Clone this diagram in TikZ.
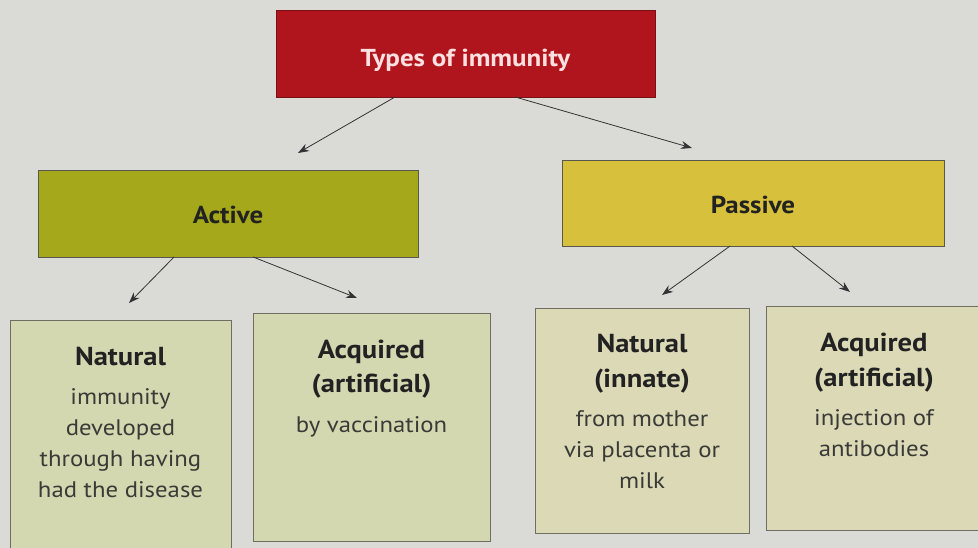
\documentclass[tikz,border=0pt]{standalone}
\usepackage{fontspec}
\setmainfont{PT Sans}[FakeStretch=1.1]
\usetikzlibrary{arrows.meta,calc}
\definecolor{bgc}{HTML}{DADAD6}
\definecolor{redc}{HTML}{B0141C}
\definecolor{reddark}{HTML}{7A1015}
\definecolor{activec}{HTML}{A5A81A}
\definecolor{passivec}{HTML}{D7C03C}
\definecolor{leftbox}{HTML}{D4D8B1}
\definecolor{rightbox}{HTML}{DBD9B6}
\definecolor{boxline}{HTML}{6E6E62}
\definecolor{ink}{HTML}{222222}
\definecolor{bodyink}{HTML}{3A3A36}
\definecolor{arrowc}{HTML}{333333}
\newcommand{\hd}[1]{{\fontsize{26}{33}\selectfont\bfseries\color{ink}#1}}
\begin{document}
\begin{tikzpicture}[x=1pt,y=-1pt,
  box/.style={draw=boxline,line width=0.9pt,anchor=north west,inner sep=0pt,outer sep=0pt},
  titletext/.style={font=\fontsize{24.5}{28}\selectfont\bfseries},
  boxtext/.style={anchor=north,align=center,inner sep=0pt,text=bodyink,font=\fontsize{22.5}{31}\selectfont},
  link/.style={draw=arrowc,line width=0.8pt,-{Stealth[length=11pt,width=8pt]}}
]
\fill[bgc] (0,0) rectangle (978,548);
\clip (0,0) rectangle (978,548);

% top level
\node[box,fill=redc,draw=reddark,minimum width=379pt,minimum height=87pt,titletext,text=white!88!red,text height=32pt,text depth=5.6pt] (top) at (276,10) {Types of immunity};
% second level
\node[box,fill=activec,draw=boxline!80!black,minimum width=380pt,minimum height=87pt,titletext,text=ink,text height=21pt,text depth=0pt] (active) at (38,170) {Active};
\node[box,fill=passivec,draw=boxline!80!black,minimum width=382pt,minimum height=86pt,titletext,text=ink,text height=21pt,text depth=0pt] (passive) at (562,160) {Passive};

% third level boxes
\node[box,fill=leftbox,minimum width=221pt,minimum height=240pt] (nat1) at (10,320) {};
\node[box,fill=leftbox,minimum width=237pt,minimum height=228pt] (acq1) at (253,313) {};
\node[box,fill=rightbox,minimum width=214pt,minimum height=225pt] (nat2) at (535,308) {};
\node[box,fill=rightbox,minimum width=216pt,minimum height=224pt] (acq2) at (766,306) {};

\node[boxtext] (nat1t) at ($(nat1.north)+(0,27)$) {\hd{Natural}\\[8pt]immunity\\developed\\through having\\had the disease};
\node[boxtext] (acq1t) at ($(acq1.north)+(0,27)$) {\hd{Acquired}\\[3pt]\hd{(artificial)}\\[9pt]by vaccination};
\node[boxtext] (nat2t) at ($(nat2.north)+(0,26)$) {\hd{Natural}\\[4pt]\hd{(innate)}\\[8pt]from mother\\via placenta or\\milk};
\node[boxtext] (acq2t) at ($(acq2.north)+(0,27)$) {\hd{Acquired}\\[4pt]\hd{(artificial)}\\[8pt]injection of\\antibodies};

% arrow end points
\coordinate (a1e) at (298,153);
\coordinate (a2e) at (692,148);
\coordinate (b1e) at (129,303);
\coordinate (b2e) at (357,298);
\coordinate (c1e) at (662,295);
\coordinate (c2e) at (850,292);

\draw[link] ($(top.south west)!0.314!(top.south east)$) -- (a1e);
\draw[link] ($(top.south west)!0.631!(top.south east)$) -- (a2e);
\draw[link] ($(active.south west)!0.358!(active.south east)$) -- (b1e);
\draw[link] ($(active.south west)!0.566!(active.south east)$) -- (b2e);
\draw[link] ($(passive.south west)!0.44!(passive.south east)$) -- (c1e);
\draw[link] ($(passive.south west)!0.602!(passive.south east)$) -- (c2e);
\end{tikzpicture}
\end{document}
